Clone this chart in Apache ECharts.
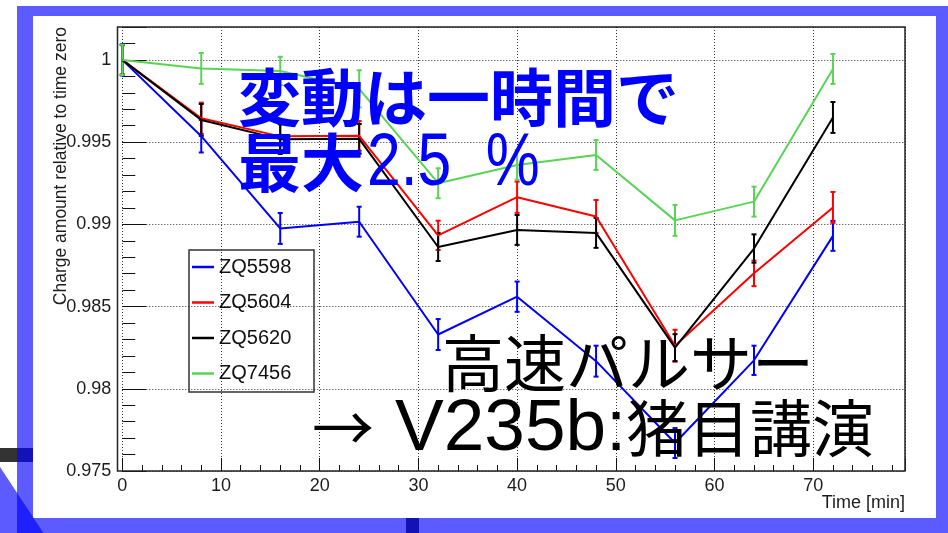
<!DOCTYPE html>
<html>
<head>
<meta charset="utf-8">
<script src="https://cdn.jsdelivr.net/npm/echarts@6/dist/echarts.min.js"></script>
<style>
  html, body { margin: 0; padding: 0; background: #fff; }
  #chart { width: 948px; height: 533px; }
</style>
</head>
<body>
<div id="chart"></div>
<script>
// Sampling times [min]
const timeMin = [0, 8, 16, 24, 32, 40, 48, 56, 64, 72];

// Relative charge amount (normalised to t = 0) per tube
const zq5598 = [1.0, 0.99536, 0.98975, 0.99016, 0.98330, 0.98560, 0.98168, 0.97670, 0.98173, 0.98930];
const zq5604 = [1.0, 0.99645, 0.99535, 0.99538, 0.98933, 0.99165, 0.99048, 0.98262, 0.98702, 0.99103];
const zq5620 = [1.0, 0.99635, 0.99518, 0.99520, 0.98862, 0.98966, 0.98948, 0.98250, 0.98853, 0.99650];
const zq7456 = [1.0, 0.99948, 0.99933, 0.99824, 0.99250, 0.99361, 0.99422, 0.99024, 0.99138, 0.99945];

// Uncertainties (half length of the error bars)
const err5598 = [0.00095, 0.00099, 0.00094, 0.00091, 0.00094, 0.00092, 0.00094, 0.00091, 0.00089, 0.00091];
const err5604 = [0.00090, 0.00095, 0.00090, 0.00090, 0.00089, 0.00095, 0.00100, 0.00097, 0.00078, 0.00094];
const err5620 = [0.00090, 0.00097, 0.00090, 0.00090, 0.00085, 0.00091, 0.00091, 0.00082, 0.00086, 0.00094];
const err7456 = [0.00092, 0.00094, 0.00086, 0.00113, 0.00091, 0.00090, 0.00091, 0.00094, 0.00091, 0.00091];

const tubeNames = ['ZQ5598', 'ZQ5604', 'ZQ5620', 'ZQ7456'];
const tubeColors = ['#0000ff', '#ff0000', '#000000', '#59d454'];
const tubeValues = [zq5598, zq5604, zq5620, zq7456];
const tubeErrors = [err5598, err5604, err5620, err7456];

// Axis ranges and tick spacing
const xRange = [0, 79.3];
const yRange = [0.975, 1.002];
const xMajor = 10, xMinor = 2;
const yMajor = 0.005, yMinor = 0.001;

const LATIN = 'Liberation Sans, Arial, Helvetica, sans-serif';
const CJK = 'Noto Sans CJK JP, sans-serif';
const BAND = 'rgba(0,0,255,0.643)';

function isMultiple(v, step) {
  const r = v / step;
  return Math.abs(r - Math.round(r)) < 1e-6;
}

function lineSeries(i) {
  return {
    type: 'line',
    name: tubeNames[i],
    data: timeMin.map((t, k) => [t, tubeValues[i][k]]),
    symbol: 'none',
    lineStyle: { color: tubeColors[i], width: 2 },
    itemStyle: { color: tubeColors[i] },
    silent: true,
    animation: false,
    z: 2
  };
}

function errorSeries(i) {
  const color = tubeColors[i];
  return {
    type: 'custom',
    name: tubeNames[i] + ' error',
    data: timeMin.map((t, k) => [t, tubeValues[i][k] - tubeErrors[i][k], tubeValues[i][k] + tubeErrors[i][k]]),
    renderItem: function (params, api) {
      const x = api.value(0);
      const lo = api.coord([x, api.value(1)]);
      const hi = api.coord([x, api.value(2)]);
      const cap = 2.5;
      const st = { stroke: color, lineWidth: 2 };
      return {
        type: 'group',
        children: [
          { type: 'line', shape: { x1: lo[0], y1: lo[1], x2: hi[0], y2: hi[1] }, style: st },
          { type: 'line', shape: { x1: lo[0] - cap, y1: lo[1], x2: lo[0] + cap, y2: lo[1] }, style: st },
          { type: 'line', shape: { x1: hi[0] - cap, y1: hi[1], x2: hi[0] + cap, y2: hi[1] }, style: st }
        ]
      };
    },
    silent: true,
    animation: false,
    z: 2
  };
}

const series = [];
for (let i = 0; i < tubeNames.length; i++) {
  series.push(lineSeries(i));
  series.push(errorSeries(i));
}

const dotted = { type: [1, 2], color: '#333', width: 1 };

const option = {
  backgroundColor: '#ffffff',
  animation: false,
  grid: { left: 122.3, top: 27, right: 43, bottom: 62, containLabel: false, outerBoundsMode: 'none' },
  legend: {
    data: tubeNames,
    orient: 'vertical',
    left: 192,
    top: 257,
    padding: 0,
    icon: 'rect',
    itemWidth: 22,
    itemHeight: 2.5,
    itemGap: 15.5,
    selectedMode: false,
    textStyle: { fontFamily: LATIN, fontSize: 20, lineHeight: 20, color: '#111' }
  },
  xAxis: [
    {
      type: 'value', min: xRange[0], max: xRange[1], interval: xMajor, position: 'bottom',
      axisLine: { show: false },
      axisTick: { inside: true, length: 13, lineStyle: { color: '#111', width: 1 } },
      axisLabel: {
        fontFamily: LATIN, fontSize: 18, color: '#1c1c1c', margin: 6,
        formatter: v => isMultiple(v, xMajor) ? String(Math.round(v)) : ''
      },
      splitLine: { show: true, lineStyle: dotted }
    },
    {
      type: 'value', min: xRange[0], max: xRange[1], interval: xMinor, position: 'bottom',
      axisLine: { show: false },
      axisTick: { inside: true, length: 6, lineStyle: { color: '#111', width: 1 } },
      axisLabel: { show: false },
      splitLine: { show: false }
    }
  ],
  yAxis: [
    {
      type: 'value', min: yRange[0], max: yRange[1], interval: yMajor, position: 'left', offset: 5,
      axisLine: { show: false },
      axisTick: { inside: true, length: 24, lineStyle: { color: '#111', width: 1 } },
      axisLabel: {
        fontFamily: LATIN, fontSize: 18, color: '#1c1c1c', margin: 6,
        formatter: v => isMultiple(v, yMajor) ? String(+v.toFixed(3)) : ''
      },
      splitLine: { show: true, lineStyle: dotted }
    },
    {
      type: 'value', min: yRange[0], max: yRange[1], interval: yMinor, position: 'left', offset: 5,
      axisLine: { show: false },
      axisTick: { inside: true, length: 13, lineStyle: { color: '#111', width: 1 } },
      axisLabel: { show: false },
      splitLine: { show: false }
    }
  ],
  series: series,
  graphic: [
    // slide decoration
    { type: 'rect', shape: { x: 0, y: 448, width: 33, height: 14 }, style: { fill: '#333' }, z: -10 },
    { type: 'rect', shape: { x: 406, y: 518, width: 13, height: 15 }, style: { fill: '#333' }, z: -10 },
    { type: 'rect', shape: { x: 17, y: 6, width: 931, height: 10 }, style: { fill: BAND }, z: -5 },
    { type: 'rect', shape: { x: 17, y: 16, width: 16, height: 517 }, style: { fill: BAND }, z: -5 },
    { type: 'rect', shape: { x: 936, y: 16, width: 12, height: 502 }, style: { fill: BAND }, z: -5 },
    { type: 'rect', shape: { x: 33, y: 518, width: 915, height: 15 }, style: { fill: BAND }, z: -5 },
    { type: 'polygon', shape: { points: [[0, 467], [0, 533], [43.5, 533]] }, style: { fill: BAND }, z: -4 },
    // plot frame and legend box
    { type: 'rect', shape: { x: 117.5, y: 27, width: 787.5, height: 444 }, style: { fill: null, stroke: '#222', lineWidth: 1.5 }, z: 5 },
    { type: 'rect', shape: { x: 189, y: 250, width: 125, height: 142 }, style: { fill: null, stroke: '#333', lineWidth: 1.5 }, z: 5 },
    // axis titles
    {
      type: 'text', x: 61.5, y: 27, rotation: Math.PI / 2, z: 5,
      style: { text: 'Charge amount relative to time zero', fontFamily: LATIN, fontSize: 17.5, fill: '#1c1c1c', align: 'right', verticalAlign: 'middle' }
    },
    {
      type: 'text', x: 905, y: 503, z: 5,
      style: { text: 'Time [min]', fontFamily: LATIN, fontSize: 18, fill: '#1c1c1c', align: 'right', verticalAlign: 'middle' }
    },
    // headline
    {
      type: 'text', x: 238, y: 97.5, z: 100,
      style: { text: '変動は一時間で', fontFamily: CJK, fontWeight: 'bold', fontSize: 63, fill: '#0000ff', align: 'left', verticalAlign: 'middle' }
    },
    {
      type: 'text', x: 238, y: 162.5, z: 100,
      style: { text: '最大', fontFamily: CJK, fontWeight: 'bold', fontSize: 63, fill: '#0000ff', align: 'left', verticalAlign: 'middle' }
    },
    {
      type: 'text', x: 367, y: 165, scaleX: 0.82, z: 100,
      style: {
        text: '{n|2.5}{p|%}', fill: '#0000ff', align: 'left', verticalAlign: 'middle',
        rich: {
          n: { fontFamily: LATIN, fontSize: 74, fill: '#0000ff' },
          p: { fontFamily: LATIN, fontSize: 74, fill: '#0000ff', padding: [0, 0, 0, 42] }
        }
      }
    },
    // talk reference
    {
      type: 'text', x: 442, y: 363, z: 100,
      style: { text: '高速パルサー', fontFamily: CJK, fontSize: 62, fill: '#000', align: 'left', verticalAlign: 'middle' }
    },
    {
      type: 'text', x: 312, y: 428, z: 100,
      style: { text: '→', fontFamily: CJK, fontSize: 62, fill: '#000', align: 'left', verticalAlign: 'middle' }
    },
    {
      type: 'text', x: 395, y: 430, z: 100,
      style: { text: 'V235b:', fontFamily: LATIN, fontSize: 73, fill: '#000', align: 'left', verticalAlign: 'middle' }
    },
    {
      type: 'text', x: 626, y: 428, z: 100,
      style: { text: '猪目講演', fontFamily: CJK, fontSize: 62, fill: '#000', align: 'left', verticalAlign: 'middle' }
    }
  ]
};

const chart = echarts.init(document.getElementById('chart'), null, { renderer: 'canvas' });
chart.setOption(option);
</script>
</body>
</html>
